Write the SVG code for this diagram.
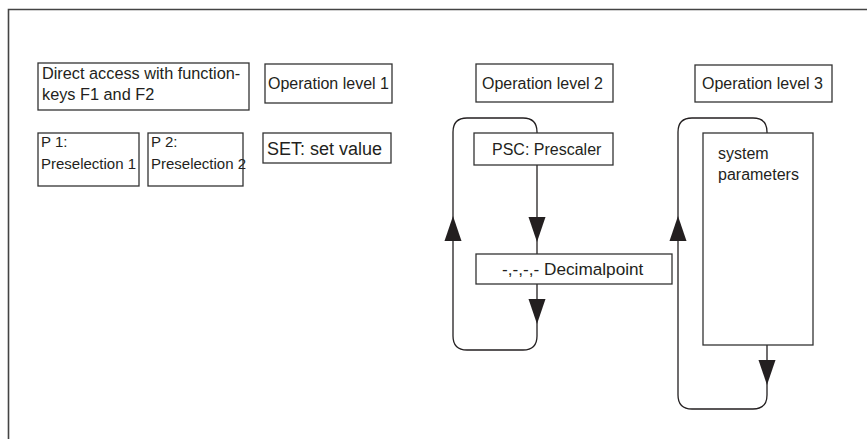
<svg xmlns="http://www.w3.org/2000/svg" xmlns:xlink="http://www.w3.org/1999/xlink" width="867" height="439" viewBox="0 0 867 439">
<style>
  .box { fill: #ffffff; stroke: #333333; stroke-width: 1.3; }
  .t { font-family: "Liberation Sans", Arial, sans-serif; font-size: 16px; fill: #231f20; }
  .line { fill: none; stroke: #231f20; stroke-width: 1.3; }
  .head { fill: #231f20; stroke: none; }
</style>
<defs>
  <path id="arrowDown" class="head" d="M -8.5 -25 L 8.5 -25 L 0 0 Z"/>
</defs>
<rect x="0" y="0" width="867" height="439" fill="#ffffff"/>
<path d="M 8.5 439 V 9.5 H 867" fill="none" stroke="#444444" stroke-width="1.6"/>

<g id="connectors">
  <!-- operation level 2 loop -->
  <path class="line" d="M 537 133 V 132 Q 537 118 523 118 H 467 Q 453 118 453 132 V 336 Q 453 350 467 350 H 523 Q 537 350 537 336 V 284"/>
  <line class="line" x1="537" y1="165" x2="537" y2="254"/>
  <use xlink:href="#arrowDown" transform="translate(537,242)"/>
  <use xlink:href="#arrowDown" transform="translate(537,324)"/>
  <use xlink:href="#arrowDown" transform="translate(453,216) rotate(180)"/>
  <!-- operation level 3 loop -->
  <path class="line" d="M 767 133 V 132 Q 767 118 753 118 H 692 Q 678 118 678 132 V 395 Q 678 409 692 409 H 753 Q 767 409 767 395 V 345"/>
  <use xlink:href="#arrowDown" transform="translate(767,385)"/>
  <use xlink:href="#arrowDown" transform="translate(678,216) rotate(180)"/>
</g>

<g id="direct-access">
  <rect class="box" x="38" y="63" width="211" height="47"/>
  <text class="t" x="42" y="79" style="font-size:16.3px">Direct access with function-</text>
  <text class="t" x="42" y="100" style="font-size:16.3px">keys F1 and F2</text>
</g>
<g id="operation-level-1">
  <rect class="box" x="265" y="64" width="127" height="39"/>
  <text class="t" x="268" y="89">Operation level 1</text>
</g>
<g id="p1">
  <rect class="box" x="38" y="133" width="101" height="53"/>
  <text class="t" x="41" y="147" style="font-size:15px">P 1:</text>
  <text class="t" x="41" y="169" style="font-size:15px">Preselection 1</text>
</g>
<g id="p2">
  <rect class="box" x="148" y="133" width="95" height="53"/>
  <text class="t" x="151" y="147" style="font-size:15px">P 2:</text>
  <text class="t" x="151" y="169" style="font-size:15px">Preselection 2</text>
</g>
<g id="set-value">
  <rect class="box" x="263" y="133" width="128" height="30"/>
  <text class="t" x="267" y="155" style="font-size:18px">SET: set value</text>
</g>
<g id="operation-level-2">
  <rect class="box" x="476" y="64" width="137" height="38"/>
  <text class="t" x="482" y="89">Operation level 2</text>
</g>
<g id="prescaler">
  <rect class="box" x="474" y="133" width="139" height="32"/>
  <text class="t" x="492" y="155">PSC: Prescaler</text>
</g>
<g id="decimalpoint">
  <rect class="box" x="476" y="254" width="196" height="30"/>
  <text class="t" x="502" y="275" style="font-size:17.2px">-,-,-,- Decimalpoint</text>
</g>
<g id="operation-level-3">
  <rect class="box" x="695" y="65" width="137" height="37"/>
  <text class="t" x="702" y="89">Operation level 3</text>
</g>
<g id="system-parameters">
  <rect class="box" x="703" y="133" width="110" height="212"/>
  <text class="t" x="718" y="159">system</text>
  <text class="t" x="718" y="180">parameters</text>
</g>
</svg>
